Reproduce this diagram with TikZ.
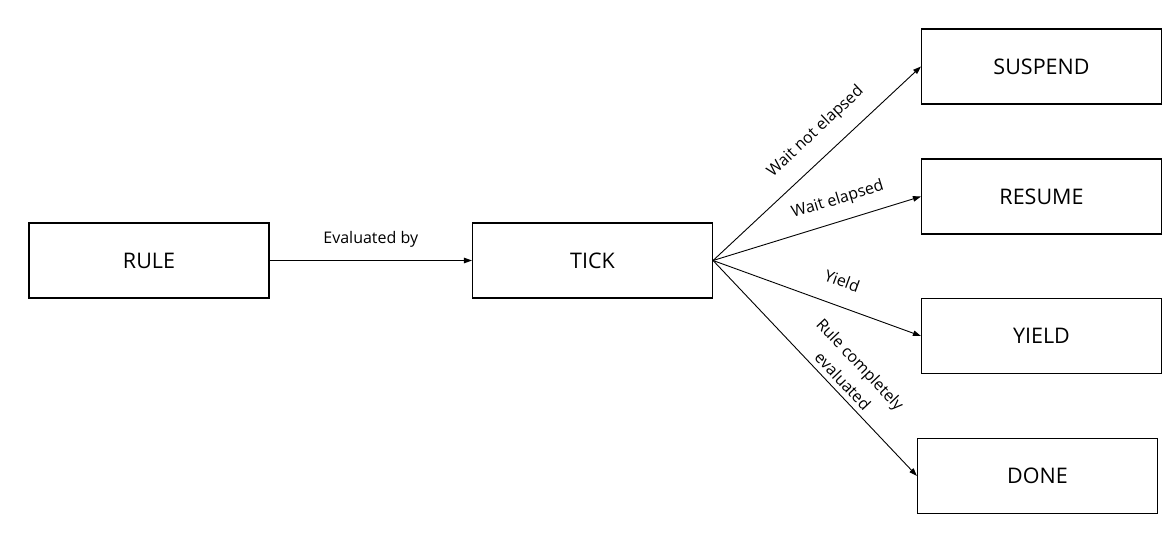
\documentclass[tikz,border=0pt]{standalone}
\usepackage{fontspec}
\setmainfont{Open Sans}
\usetikzlibrary{arrows.meta}
\begin{document}
\begin{tikzpicture}[x=1pt,y=-1pt,
  box/.style={draw, line width=1.1pt, minimum width=240pt, minimum height=75pt, inner sep=0pt, font=\fontsize{21.5}{26}\selectfont},
  conn/.style={line width=0.9pt, -{Triangle[length=8pt,width=5.5pt]}},
  lbl/.style={font=\fontsize{16}{24}\selectfont, inner sep=0pt, sloped, anchor=base}]
\path[use as bounding box] (0,0) rectangle (1176,538);
\node[box] (rule) at (149,260.5) {RULE};
\node[box] (tick) at (592.5,260.5) {TICK};
\node[box] (suspend) at (1041.5,66.5) {SUSPEND};
\node[box] (resume) at (1041.5,196.5) {RESUME};
\node[box] (yield) at (1041.5,336) {YIELD};
\node[box] (done) at (1037.5,476) {DONE};
\draw[conn] (rule) -- node[lbl, pos=0.5, yshift=17pt] {Evaluated by} (tick);
\draw[conn] (tick.east) -- node[lbl, pos=0.573, yshift=20pt] {Wait not elapsed} (suspend.west);
\draw[conn] (tick.east) -- node[lbl, pos=0.63, yshift=17pt] {Wait elapsed} (resume.west);
\draw[conn] (tick.east) -- node[lbl, pos=0.58, yshift=19pt] {Yield} (yield.west);
\draw[conn] (tick.east) -- node[lbl, pos=0.596, anchor=south, yshift=5pt, align=center] {Rule completely\\evaluated} (done.west);
\end{tikzpicture}
\end{document}
